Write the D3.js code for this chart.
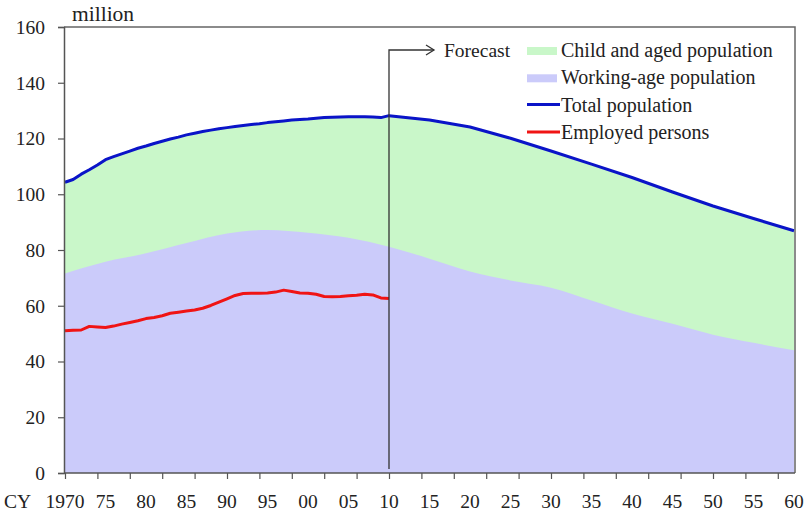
<!DOCTYPE html>
<html>
<head>
<meta charset="utf-8">
<script src="https://cdn.jsdelivr.net/npm/d3@7"></script>
<style>
  body { margin: 0; background: #fff; }
  text { font-family: "Liberation Serif", "DejaVu Serif", serif; fill: #222; }
</style>
</head>
<body>
<script>
// total population, actual (annual) then forecast (every 5 yrs)
var totalYears = [1970,1971,1972,1973,1974,1975,1976,1977,1978,1979,1980,1981,1982,1983,1984,1985,1986,1987,1988,1989,
  1990,1991,1992,1993,1994,1995,1996,1997,1998,1999,2000,2001,2002,2003,2004,2005,2006,2007,2008,2009,2010,
  2015,2020,2025,2030,2035,2040,2045,2050,2055,2060];
var totalValues = [104.3,105.3,107.2,108.8,110.5,112.4,113.5,114.5,115.5,116.5,117.3,118.2,119.0,119.8,120.5,121.3,121.9,122.5,123.0,123.5,
  123.9,124.3,124.7,125.0,125.3,125.7,126.0,126.3,126.6,126.8,127.0,127.3,127.5,127.6,127.7,127.8,127.8,127.8,127.7,127.5,128.2,
  126.6,124.1,120.1,115.5,110.8,106.0,100.8,95.8,91.3,86.9];

// working-age population
var workYears = [1970,1975,1980,1985,1990,1995,2000,2005,2010,2015,2020,2025,2030,2035,2040,2045,2050,2055,2060];
var workValues = [71.6,75.8,78.8,82.5,85.9,87.2,86.2,84.4,81.2,76.9,72.3,69.1,66.5,61.9,57.2,53.5,49.6,46.7,44.0];

// employed persons (actual only)
var empYears = [1970,1971,1972,1973,1974,1975,1976,1977,1978,1979,1980,1981,1982,1983,1984,1985,1986,1987,1988,1989,
  1990,1991,1992,1993,1994,1995,1996,1997,1998,1999,2000,2001,2002,2003,2004,2005,2006,2007,2008,2009,2010];
var empValues = [51.0,51.2,51.3,52.6,52.4,52.2,52.7,53.4,54.0,54.6,55.4,55.8,56.4,57.3,57.7,58.1,58.5,59.1,60.1,61.3,
  62.5,63.7,64.4,64.5,64.5,64.6,64.9,65.6,65.1,64.6,64.5,64.1,63.3,63.2,63.3,63.6,63.8,64.1,63.9,62.8,62.6];

var xLabelYears = [1970,1975,1980,1985,1990,1995,2000,2005,2010,2015,2020,2025,2030,2035,2040,2045,2050,2055,2060];
var xLabels = ["1970","75","80","85","90","95","00","05","10","15","20","25","30","35","40","45","50","55","60"];
var yTicks = [0,20,40,60,80,100,120,140,160];
var forecastYear = 2010;

var legendItems = [
  {name: "Child and aged population", type: "rect", color: "#c9f7c9"},
  {name: "Working-age population", type: "rect", color: "#cbcbfa"},
  {name: "Total population", type: "line", color: "#0a14c8"},
  {name: "Employed persons", type: "line", color: "#f01414"}
];

(function(){
  var width = 806, height = 515;
  var pLeft = 64, pRight = 795, pTop = 27, pBottom = 473;

  var svg = d3.select("body").append("svg")
    .attr("width", width)
    .attr("height", height);

  var x = d3.scaleLinear().domain([1970, 2060]).range([65, 794]);
  var y = d3.scaleLinear().domain([0, 160]).range([pBottom, pTop]);

  var total = totalYears.map(function(d, i){ return {year: d, v: totalValues[i]}; });
  var work = workYears.map(function(d, i){ return {year: d, v: workValues[i]}; });
  var emp = empYears.map(function(d, i){ return {year: d, v: empValues[i]}; });

  svg.append("clipPath").attr("id", "plot")
    .append("rect").attr("x", pLeft).attr("y", pTop).attr("width", pRight - pLeft).attr("height", pBottom - pTop);

  var g = svg.append("g").attr("clip-path", "url(#plot)");

  // green area = whole population, purple drawn over it
  g.append("path")
    .datum(total)
    .attr("fill", legendItems[0].color)
    .attr("d", d3.area().x(function(d){ return x(d.year); }).y0(y(0)).y1(function(d){ return y(d.v); }));

  g.append("path")
    .datum(work)
    .attr("fill", legendItems[1].color)
    .attr("d", d3.area().curve(d3.curveMonotoneX).x(function(d){ return x(d.year); }).y0(y(0)).y1(function(d){ return y(d.v); }));

  var line = d3.line().x(function(d){ return x(d.year); }).y(function(d){ return y(d.v); });

  g.append("path").datum(total)
    .attr("fill", "none").attr("stroke", legendItems[2].color).attr("stroke-width", 3)
    .attr("stroke-linejoin", "round").attr("d", line);

  g.append("path").datum(emp)
    .attr("fill", "none").attr("stroke", legendItems[3].color).attr("stroke-width", 3)
    .attr("stroke-linejoin", "round").attr("d", line);

  // frame on top and right
  svg.append("path")
    .attr("d", "M" + pLeft + "," + pTop + "H" + pRight + "V" + pBottom)
    .attr("fill", "none").attr("stroke", "#666").attr("stroke-width", 1.5);

  // y axis
  var yAxis = svg.append("g").attr("transform", "translate(" + pLeft + ",0)")
    .call(d3.axisLeft(y).tickValues(yTicks).tickSize(6).tickPadding(13));
  yAxis.select(".domain").attr("stroke", "#555").attr("stroke-width", 1.5);
  yAxis.selectAll(".tick line").attr("stroke", "#555").attr("stroke-width", 1.2);
  yAxis.selectAll("text").attr("font-size", 19.5).attr("font-family", "Liberation Serif").attr("fill", "#222");

  // x axis: tick marks every 4 years, labels every 5 years
  var xAxis = svg.append("g").attr("transform", "translate(0," + pBottom + ")")
    .call(d3.axisBottom(x).tickValues(d3.range(1970, 2061, 4)).tickSize(6).tickFormat(""));
  xAxis.select(".domain").attr("d", "M" + pLeft + ",0H" + pRight).attr("stroke", "#555").attr("stroke-width", 1.5);
  xAxis.selectAll(".tick line").attr("stroke", "#555").attr("stroke-width", 1.2);

  svg.append("g").selectAll("text")
    .data(xLabelYears)
    .enter().append("text")
    .attr("x", function(d){ return x(d); })
    .attr("y", 508)
    .attr("text-anchor", "middle")
    .attr("font-size", 19.5)
    .text(function(d, i){ return xLabels[i]; });

  svg.append("text").attr("x", 4).attr("y", 508).attr("font-size", 19.5).text("CY");
  svg.append("text").attr("x", 72).attr("y", 21).attr("font-size", 21.5).text("million");

  // forecast marker
  var fx = x(forecastYear);
  svg.append("path")
    .attr("d", "M" + fx + "," + (pBottom - 4) + "V50H434")
    .attr("fill", "none").attr("stroke", "#333").attr("stroke-width", 1.3);
  svg.append("path")
    .attr("d", "M426,45L434,50L426,55")
    .attr("fill", "none").attr("stroke", "#333").attr("stroke-width", 1.3);
  svg.append("text").attr("x", 444).attr("y", 57).attr("font-size", 19.5).text("Forecast");

  // legend
  var leg = svg.append("g").selectAll("g")
    .data(legendItems)
    .enter().append("g")
    .attr("transform", function(d, i){ return "translate(527," + (50 + i * 27.3) + ")"; });

  leg.filter(function(d){ return d.type == "rect"; })
    .append("rect").attr("x", 0).attr("y", -3).attr("width", 30).attr("height", 8)
    .attr("fill", function(d){ return d.color; });
  leg.filter(function(d){ return d.type == "line"; })
    .append("line").attr("x1", 0).attr("x2", 33).attr("y1", 0).attr("y2", 0)
    .attr("stroke", function(d){ return d.color; }).attr("stroke-width", 3);
  leg.append("text")
    .attr("x", 34).attr("y", 7)
    .attr("font-size", 20)
    .text(function(d){ return d.name; });
})();
</script>
</body>
</html>
